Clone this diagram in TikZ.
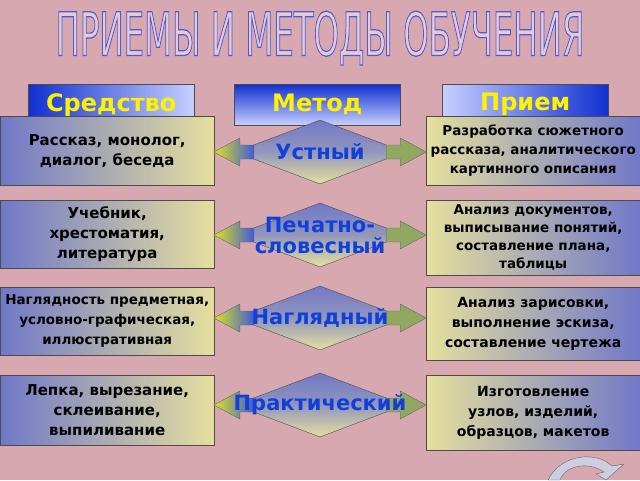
\documentclass[tikz,border=0pt]{standalone}
\usepackage{fontspec}
\setmainfont{DejaVu Sans}
\newfontfamily\condf{DejaVu Sans Condensed}
\usetikzlibrary{shapes.geometric,arrows.meta}
\definecolor{bg}{HTML}{D8A8B0}
\definecolor{dblue}{HTML}{1030D0}
\definecolor{lblue}{HTML}{C8D0FF}
\definecolor{khaki}{HTML}{E6DF9E}
\definecolor{pblue}{HTML}{7078C8}
\definecolor{tblue}{HTML}{1040D8}
\definecolor{agreen}{HTML}{90A860}
\begin{document}
\begin{tikzpicture}[x=1pt,y=-1pt,
 hdr/.style={draw=black!70,minimum width=166pt,minimum height=41pt,anchor=north west,font=\bfseries\fontsize{24}{25}\selectfont,text=yellow},
 lbox/.style={draw=black!70,left color=pblue,right color=khaki,minimum width=214pt,anchor=north west,align=center,font=\bfseries\fontsize{15}{20}\selectfont,inner sep=1pt},
 rbox/.style={lbox,left color=khaki,right color=pblue},
 dia/.style={diamond,draw=black!70,top color=pblue,bottom color=khaki,middle color=pblue!70!khaki,aspect=2.6,minimum width=170pt,minimum height=64pt,inner sep=0pt},
 mlab/.style={text=tblue,font=\bfseries\fontsize{21}{21}\selectfont,align=center},
]
\fill[bg] (0,0) rectangle (640,480);
\useasboundingbox (0,0) rectangle (640,480);
\node[font=\condf\fontsize{60}{60}\selectfont,text=bg!60!white,xscale=0.6] (title) at (320,38) {\special{pdf:literal direct 2 Tr 1.2 w 0.3 0.35 0.85 RG}ПРИЕМЫ И МЕТОДЫ ОБУЧЕНИЯ\special{pdf:literal direct 0 Tr}};
\node[hdr,left color=dblue,right color=lblue] (h1) at (28,84) {Средство};
\node[hdr,top color=dblue,bottom color=lblue] (h2) at (234,84) {Метод};
\node[hdr,left color=lblue,right color=dblue] (h3) at (442,84) {Прием};
\foreach \n/\dy in {1/152,2/235,3/318,4/405}{
  \coordinate (c\n) at (320,\dy);
}
\node[lbox,minimum height=69pt] (l1) at (0,116) {Рассказ, монолог,\\диалог, беседа};
\node[rbox,minimum height=69pt,font=\bfseries\fontsize{13.5}{19}\selectfont] (r1) at (426,116) {Разработка сюжетного\\рассказа, аналитического\\картинного описания};
\node[lbox,minimum height=68pt] (l2) at (0,200) {Учебник,\\хрестоматия,\\литература};
\node[rbox,minimum height=75pt,font=\bfseries\fontsize{13.5}{18}\selectfont] (r2) at (426,200) {Анализ документов,\\выписывание понятий,\\составление плана,\\таблицы};
\node[lbox,minimum height=68pt,font=\bfseries\fontsize{13.5}{20}\selectfont] (l3) at (0,287) {Наглядность предметная,\\условно-графическая,\\иллюстративная};
\node[rbox,minimum height=73pt,font=\bfseries\fontsize{14}{20}\selectfont] (r3) at (426,287) {Анализ зарисовки,\\выполнение эскиза,\\составление чертежа};
\node[lbox,minimum height=70pt] (l4) at (0,375) {Лепка, вырезание,\\склеивание,\\выпиливание};
\node[rbox,minimum height=75pt,font=\bfseries\fontsize{14}{20}\selectfont] (r4) at (426,375) {Изготовление\\узлов, изделий,\\образцов, макетов};
\foreach \n/\t in {1/Устный,2/{Печатно-\\словесный},3/Наглядный,4/Практический}{
  \node[dia] (d\n) at (c\n) {};
  \draw[draw=black!60,left color=yellow!70!agreen,right color=dblue!80] ([xshift=-21pt]d\n.west) -- ++(26pt,-14pt) -- ++(0,7pt) -- ++(14pt,0) -- ++(0,14pt) -- ++(-14pt,0) -- ++(0,7pt) -- cycle;
  \draw[draw=black!60,fill=agreen] ([xshift=21pt]d\n.east) -- ++(-26pt,-14pt) -- ++(0,7pt) -- ++(-14pt,0) -- ++(0,14pt) -- ++(14pt,0) -- ++(0,7pt) -- cycle;
  \node[mlab] (m\n) at (c\n) {\t};
}
\draw[draw=black!60,fill=lblue!60!gray!60] (548,480) .. controls (560,455) and (595,450) .. (612,466) -- (624,464) -- (606,480) -- (596,474) -- (604,472) .. controls (590,462) and (566,464) .. (560,480) -- cycle;
\end{tikzpicture}
\end{document}
